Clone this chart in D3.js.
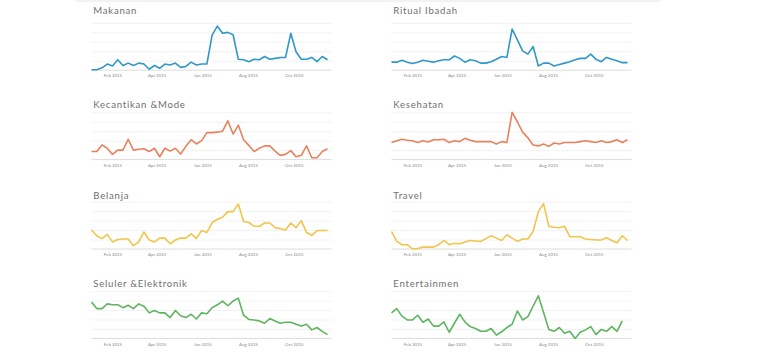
<!DOCTYPE html>
<html>
<head>
<meta charset="utf-8">
<script src="https://cdnjs.cloudflare.com/ajax/libs/d3/7.8.5/d3.min.js"></script>
<style>
body { margin: 0; background: #fff; }
svg { display: block; }
.title { font-family: Lato, "Open Sans", sans-serif; font-size: 9.6px; fill: #6f6f6f; letter-spacing: 0.75px; }
.tick text { font-family: Lato, sans-serif; font-size: 4.4px; fill: #8a8a8a; }
</style>
</head>
<body>
<svg id="chart"></svg>
<script>
// weekly points, Google-Trends style
var weeks = d3.timeWeek.range(new Date(2015, 0, 4), new Date(2015, 10, 16));
var monthTicks = [new Date(2015, 1, 1), new Date(2015, 3, 1), new Date(2015, 5, 1), new Date(2015, 7, 1), new Date(2015, 9, 1)];

var titles = ["Makanan", "Ritual Ibadah", "Kecantikan &Mode", "Kesehatan", "Belanja", "Travel", "Seluler &Elektronik", "Entertainmen"];

var makanan = [1,1,5,13,9,22,10,15,10,15,13,2,10,4,13,11,15,6,8,17,11,13,13,74,93,78,80,75,23,22,18,23,22,29,23,25,27,27,78,39,23,23,27,18,29,22];
var ritualIbadah = [17,17,21,17,14,17,21,19,17,20,22,22,30,25,17,22,20,15,15,18,23,29,27,87,64,41,34,50,9,15,15,9,12,15,18,22,25,25,34,23,18,27,23,20,16,16];
var kecantikan = [17,17,31,24,11,20,20,43,20,22,23,17,24,6,24,18,24,12,28,42,33,40,57,57,58,60,82,54,73,42,30,17,24,29,29,18,9,11,19,6,9,29,4,4,17,23];
var kesehatan = [36,40,43,41,40,36,40,37,42,42,43,36,40,38,45,41,38,38,38,38,33,38,36,100,80,58,46,31,29,33,28,35,33,36,36,36,38,40,38,36,40,36,38,42,36,42];
var belanja = [40,28,22,31,15,20,21,21,7,15,36,19,15,23,23,11,19,23,23,32,22,39,35,56,63,67,79,79,95,58,56,48,48,55,55,45,43,40,55,45,60,35,29,39,39,39];
var travel = [37,16,9,9,0,1,4,4,4,9,18,9,12,11,15,18,17,16,22,28,23,18,30,23,16,21,21,37,79,96,48,46,45,48,26,26,26,21,20,19,19,24,18,13,28,18];
var seluler = [77,63,63,73,71,71,65,70,63,73,68,54,59,54,54,44,59,48,44,51,41,54,52,65,71,79,69,79,85,49,40,39,37,32,42,37,32,34,34,30,26,30,18,23,15,8];
var entertainmen = [54,63,47,39,39,49,34,41,26,26,35,13,32,51,35,25,21,15,15,21,7,14,23,30,58,39,46,68,90,55,19,15,23,11,15,0,13,18,25,8,19,15,25,15,37];

var series = [makanan, ritualIbadah, kecantikan, kesehatan, belanja, travel, seluler, entertainmen];
var rowColors = ["#2f98c9", "#e8825c", "#f1c54a", "#5db65e"];

var width = 768, height = 363;
var colX = [91.5, 391.5];
var gridW = 240, dataW = 236, plotH = 47.3;
var rowBase = [70.2, 159.6, 249, 338.4];
var titleY = [14, 108.3, 199.3, 286.6];

var svg = d3.select("#chart")
	.attr("width", width)
	.attr("height", height);

// faint rule along the top
svg.append("line")
	.attr("x1", 76).attr("x2", 660)
	.attr("y1", 1).attr("y2", 1)
	.attr("stroke", "#e6e6e6");

var xScale = d3.scaleTime()
	.domain([weeks[0], weeks[weeks.length - 1]])
	.range([0, dataW]);

var yScale = d3.scaleLinear()
	.domain([0, 100])
	.range([plotH, 0]);

series.forEach(function(values, k) {
	var row = Math.floor(k / 2), col = k % 2;
	var g = svg.append("g")
		.attr("transform", "translate(" + colX[col] + "," + (rowBase[row] - plotH) + ")");

	// gridlines
	g.append("g")
		.call(d3.axisLeft(yScale).tickValues([20, 40, 60, 80, 100]).tickSize(-gridW).tickFormat(""))
		.call(function(a) {
			a.select(".domain").remove();
			a.selectAll("line").attr("stroke", "#efefef").attr("stroke-width", 0.8);
		});

	// baseline + month labels
	var xa = g.append("g")
		.attr("transform", "translate(0," + plotH + ")")
		.call(d3.axisBottom(xScale).tickValues(monthTicks).tickFormat(d3.timeFormat("%b %Y")).tickSize(0).tickPadding(4));
	xa.select(".domain").remove();
	xa.append("line")
		.attr("x1", 0).attr("x2", gridW)
		.attr("stroke", "#dcdcdc").attr("stroke-width", 1);

	var line = d3.line()
		.x(function(d, i) { return xScale(weeks[i]); })
		.y(function(d) { return yScale(d); });

	g.append("path")
		.datum(values)
		.attr("fill", "none")
		.attr("stroke", rowColors[row])
		.attr("stroke-width", 1.6)
		.attr("stroke-linejoin", "round")
		.attr("d", line);

	svg.append("text")
		.attr("class", "title")
		.attr("x", colX[col] + 1.8)
		.attr("y", titleY[row])
		.text(titles[k]);
});
</script>
</body>
</html>
